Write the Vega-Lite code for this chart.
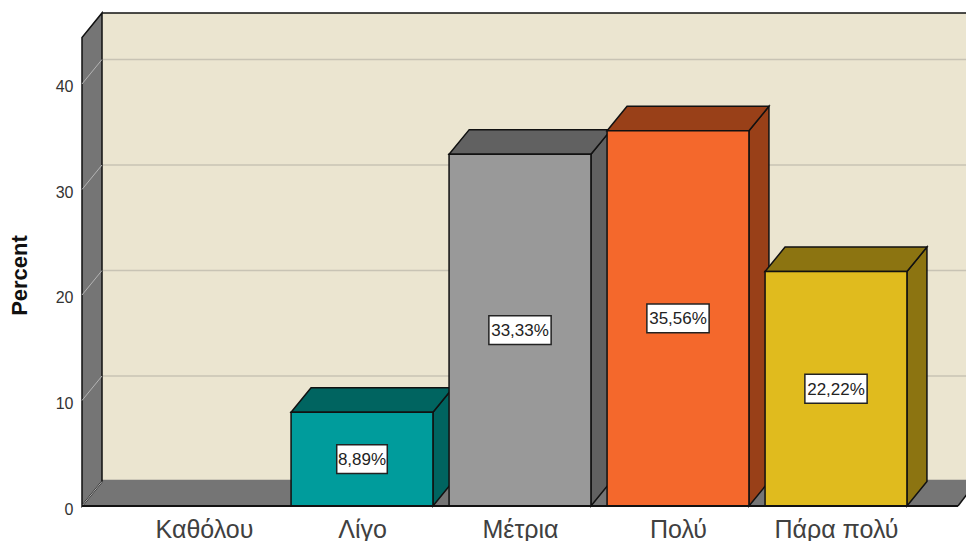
{
  "$schema": "https://vega.github.io/schema/vega-lite/v6.json",
  "width": 884,
  "height": 498,
  "autosize": {"type": "none"},
  "padding": {"left": 82, "top": 8, "right": 0, "bottom": 35},
  "background": "white",
  "config": {"view": {"stroke": null}},
  "params": [
    {"name": "depthX", "value": 0.1266},
    {"name": "depthY", "value": 2.32},
    {"name": "floorDepth", "value": 2.48},
    {"name": "halfBar", "value": 0.449},
    {"name": "wallLeft", "value": 0.2278},
    {"name": "floorRight", "value": 5.772},
    {"name": "wallTop", "value": 46.73}
  ],
  "datasets": {
    "bars": [
      {"category": "Καθόλου", "rank": 1, "percent": 0},
      {"category": "Λίγο", "rank": 2, "percent": 8.89},
      {"category": "Μέτρια", "rank": 3, "percent": 33.33},
      {"category": "Πολύ", "rank": 4, "percent": 35.56},
      {"category": "Πάρα πολύ", "rank": 5, "percent": 22.22}
    ],
    "levels": [{"level": 0}, {"level": 10}, {"level": 20}, {"level": 30}, {"level": 40}],
    "edges": [{"edge": 0}, {"edge": 1}]
  },
  "encoding": {
    "x": {
      "field": "px",
      "type": "quantitative",
      "scale": {"domain": [0.2278, 5.8228], "nice": false, "zero": false},
      "axis": {
        "title": null,
        "values": [1, 2, 3, 4, 5],
        "labelExpr": "['Καθόλου','Λίγο','Μέτρια','Πολύ','Πάρα πολύ'][datum.value-1]",
        "domain": false,
        "ticks": false,
        "tickSize": 0,
        "grid": false,
        "labelFont": "Liberation Sans",
        "labelFontSize": 25,
        "labelColor": "#404040",
        "labelPadding": 11,
        "labelOverlap": false,
        "labelFlush": false
      }
    },
    "y": {
      "field": "py",
      "type": "quantitative",
      "scale": {"domain": [0, 47.2], "nice": false, "zero": false},
      "axis": {
        "title": "Percent",
        "titleFont": "Liberation Sans",
        "titleFontSize": 22,
        "titleFontWeight": "bold",
        "titleColor": "#111111",
        "titleX": -51,
        "titleY": 267,
        "titleAngle": -90,
        "titleAlign": "center",
        "values": [0, 10, 20, 30, 40],
        "domain": false,
        "ticks": false,
        "tickSize": 0,
        "grid": false,
        "labelFont": "Liberation Sans",
        "labelFontSize": 16,
        "labelColor": "#333333",
        "labelPadding": 9,
        "labelOffset": 3
      }
    }
  },
  "resolve": {"scale": {"color": "independent"}},
  "layer": [
    {
      "description": "Back wall",
      "data": {"values": [{"edge": 1}]},
      "transform": [
        {"calculate": "wallLeft + depthX", "as": "px"},
        {"calculate": "6", "as": "px2"},
        {"calculate": "depthY", "as": "py"},
        {"calculate": "wallTop", "as": "py2"}
      ],
      "mark": {"type": "rect", "fill": "#ebe5d0"},
      "encoding": {"x2": {"field": "px2"}, "y2": {"field": "py2"}}
    },
    {
      "description": "Top edge of the back wall",
      "data": {"values": [{"edge": 1}]},
      "transform": [
        {"calculate": "wallLeft + depthX", "as": "px"},
        {"calculate": "6", "as": "px2"},
        {"calculate": "wallTop", "as": "py"}
      ],
      "mark": {"type": "rule", "stroke": "#111111", "strokeWidth": 1.5},
      "encoding": {"x2": {"field": "px2"}}
    },
    {
      "description": "Gridlines across the back wall",
      "data": {"name": "levels"},
      "transform": [
        {"filter": "datum.level > 0"},
        {"calculate": "wallLeft + depthX", "as": "px"},
        {"calculate": "6", "as": "px2"},
        {"calculate": "datum.level + depthY", "as": "py"}
      ],
      "mark": {"type": "rule", "stroke": "#c8c3b4", "strokeWidth": 1.5},
      "encoding": {"x2": {"field": "px2"}}
    },
    {
      "description": "Floor",
      "data": {"name": "edges"},
      "transform": [
        {"calculate": "wallLeft + datum.edge * depthX", "as": "px"},
        {"calculate": "floorRight + datum.edge * depthX", "as": "px2"},
        {"calculate": "datum.edge * floorDepth", "as": "py"}
      ],
      "mark": {"type": "area", "orient": "horizontal", "fill": "#757575"},
      "encoding": {"x2": {"field": "px2"}}
    },
    {
      "description": "Left wall",
      "data": {"name": "edges"},
      "transform": [
        {"calculate": "wallLeft + datum.edge * depthX", "as": "px"},
        {"calculate": "datum.edge * depthY", "as": "py"},
        {"calculate": "wallTop - depthY + datum.edge * depthY", "as": "py2"}
      ],
      "mark": {"type": "area", "orient": "vertical", "fill": "#757575", "stroke": "#111111", "strokeWidth": 1.5},
      "encoding": {"y2": {"field": "py2"}}
    },
    {
      "description": "Gridlines slanting across the left wall",
      "data": {"name": "levels"},
      "transform": [
        {"calculate": "wallLeft", "as": "px"},
        {"calculate": "wallLeft + depthX", "as": "px2"},
        {"calculate": "datum.level", "as": "py"},
        {"calculate": "datum.level + depthY", "as": "py2"}
      ],
      "mark": {"type": "rule", "stroke": "#b4b4b4", "strokeWidth": 1},
      "encoding": {"x2": {"field": "px2"}, "y2": {"field": "py2"}}
    },
    {
      "description": "Right slanted edge of the floor",
      "data": {"values": [{"edge": 1}]},
      "transform": [
        {"calculate": "floorRight", "as": "px"},
        {"calculate": "floorRight + depthX", "as": "px2"},
        {"calculate": "0", "as": "py"},
        {"calculate": "floorDepth", "as": "py2"}
      ],
      "mark": {"type": "rule", "stroke": "#111111", "strokeWidth": 1.5},
      "encoding": {"x2": {"field": "px2"}, "y2": {"field": "py2"}}
    },
    {
      "description": "Side faces of the bars",
      "data": {"name": "bars"},
      "transform": [
        {"filter": "datum.percent > 0"},
        {"calculate": "[0, 1]", "as": "edge"},
        {"flatten": ["edge"]},
        {"calculate": "datum.rank + halfBar + datum.edge * depthX", "as": "px"},
        {"calculate": "datum.edge * depthY", "as": "py"},
        {"calculate": "datum.percent + datum.edge * depthY", "as": "py2"}
      ],
      "mark": {"type": "area", "orient": "vertical", "stroke": "#111111", "strokeWidth": 1.5},
      "encoding": {
        "y2": {"field": "py2"},
        "color": {
          "field": "category",
          "type": "nominal",
          "legend": null,
          "scale": {
            "domain": ["Λίγο", "Μέτρια", "Πολύ", "Πάρα πολύ"],
            "range": ["#006460", "#616161", "#994018", "#8c7411"]
          }
        }
      }
    },
    {
      "description": "Top faces of the bars",
      "data": {"name": "bars"},
      "transform": [
        {"filter": "datum.percent > 0"},
        {"calculate": "[0, 1]", "as": "edge"},
        {"flatten": ["edge"]},
        {"calculate": "datum.rank - halfBar + datum.edge * depthX", "as": "px"},
        {"calculate": "datum.rank + halfBar + datum.edge * depthX", "as": "px2"},
        {"calculate": "datum.percent + datum.edge * depthY", "as": "py"}
      ],
      "mark": {"type": "area", "orient": "horizontal", "stroke": "#111111", "strokeWidth": 1.5},
      "encoding": {
        "x2": {"field": "px2"},
        "color": {
          "field": "category",
          "type": "nominal",
          "legend": null,
          "scale": {
            "domain": ["Λίγο", "Μέτρια", "Πολύ", "Πάρα πολύ"],
            "range": ["#006460", "#616161", "#994018", "#8c7411"]
          }
        }
      }
    },
    {
      "description": "Front faces of the bars",
      "data": {"name": "bars"},
      "transform": [
        {"filter": "datum.percent > 0"},
        {"calculate": "datum.rank - halfBar", "as": "px"},
        {"calculate": "datum.rank + halfBar", "as": "px2"},
        {"calculate": "0", "as": "py"},
        {"calculate": "datum.percent", "as": "py2"}
      ],
      "mark": {"type": "rect", "stroke": "#111111", "strokeWidth": 1.5},
      "encoding": {
        "x2": {"field": "px2"},
        "y2": {"field": "py2"},
        "color": {
          "field": "category",
          "type": "nominal",
          "legend": null,
          "scale": {
            "domain": ["Λίγο", "Μέτρια", "Πολύ", "Πάρα πολύ"],
            "range": ["#009c9c", "#999999", "#f4682c", "#e0bb1e"]
          }
        }
      }
    },
    {
      "description": "Baseline in front of the floor",
      "data": {"values": [{"edge": 0}]},
      "transform": [
        {"calculate": "wallLeft", "as": "px"},
        {"calculate": "floorRight", "as": "px2"},
        {"calculate": "0", "as": "py"}
      ],
      "mark": {"type": "rule", "stroke": "#111111", "strokeWidth": 2},
      "encoding": {"x2": {"field": "px2"}}
    },
    {
      "description": "Boxes behind the value labels",
      "data": {"name": "bars"},
      "transform": [
        {"filter": "datum.percent > 0"},
        {"calculate": "datum.percent < 10 ? 0.16 : 0.197", "as": "boxHalf"},
        {"calculate": "datum.rank - datum.boxHalf", "as": "px"},
        {"calculate": "datum.rank + datum.boxHalf", "as": "px2"},
        {"calculate": "datum.percent / 2 - 1.37", "as": "py"},
        {"calculate": "datum.percent / 2 + 1.37", "as": "py2"}
      ],
      "mark": {"type": "rect", "fill": "white", "stroke": "#222222", "strokeWidth": 1.5},
      "encoding": {"x2": {"field": "px2"}, "y2": {"field": "py2"}}
    },
    {
      "description": "Value labels",
      "data": {"name": "bars"},
      "transform": [
        {"filter": "datum.percent > 0"},
        {"calculate": "datum.rank", "as": "px"},
        {"calculate": "datum.percent / 2", "as": "py"},
        {"calculate": "replace(format(datum.percent, '.2f'), '.', ',') + '%'", "as": "label"}
      ],
      "mark": {"type": "text", "font": "Liberation Sans", "fontSize": 17, "color": "#222222", "align": "center", "baseline": "middle", "dy": 1},
      "encoding": {"text": {"field": "label"}}
    }
  ]
}
